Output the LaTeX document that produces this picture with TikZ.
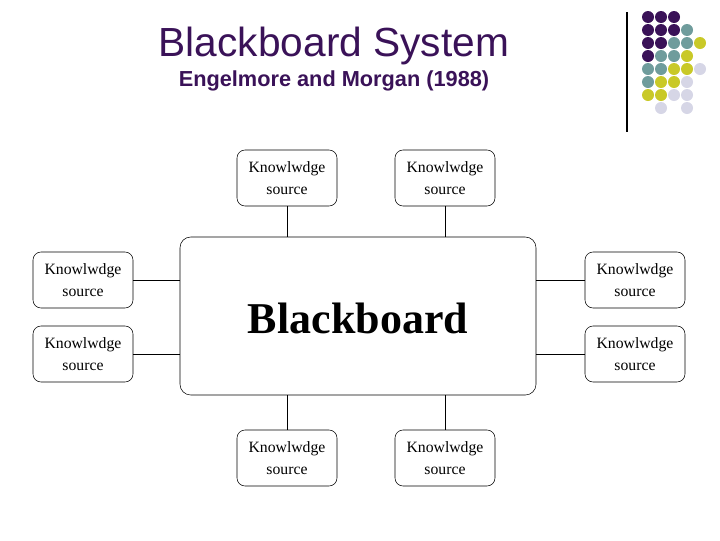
\documentclass[tikz,border=0pt]{standalone}
\usepackage{fontspec}
\setmainfont{Liberation Serif}
\newfontfamily\arialfont{Liberation Sans}
\usetikzlibrary{positioning}
\definecolor{bbpurple}{HTML}{3A1258}
\definecolor{bbteal}{HTML}{6F9C9C}
\definecolor{bbyellow}{HTML}{C9C928}
\definecolor{bblav}{HTML}{D6D6E6}
\tikzset{
  ks/.style={draw, rounded corners=6pt, minimum width=75pt, minimum height=42pt, align=center, font=\fontsize{11.8}{16.5}\selectfont},
  dot/.style={circle, inner sep=0pt, minimum size=9pt},
}
\begin{document}
\begin{tikzpicture}[x=0.75pt, y=-0.75pt]
		\useasboundingbox (0,0) rectangle (720,540);
		\node[font=\arialfont\fontsize{30.5}{33}\selectfont, text=bbpurple] (title) at (334, 46) {Blackboard System};
		\node[font=\arialfont\bfseries\fontsize{16.3}{18}\selectfont, text=bbpurple] (sub) at (334, 81) {Engelmore and Morgan (1988)};

		% dot grid
		\coordinate (ltop) at (627, 12);
		\coordinate (lbot) at (627, 132);
		\draw [line width=1pt] (ltop) -- (lbot);
		\foreach \r/\row in {0/{bbpurple,bbpurple,bbpurple},
				1/{bbpurple,bbpurple,bbpurple,bbteal},
				2/{bbpurple,bbpurple,bbteal,bbteal,bbyellow},
				3/{bbpurple,bbteal,bbteal,bbyellow},
				4/{bbteal,bbteal,bbyellow,bbyellow,bblav},
				5/{bbteal,bbyellow,bbyellow,bblav},
				6/{bbyellow,bbyellow,bblav,bblav},
				7/{none,bblav,none,bblav}} {
			\foreach \c [count=\i from 0] in \row {
				\node[dot, fill=\c] (d\r\i) at (648+13*\i, 17+13*\r) {};
			}
		}

		\node[draw, rounded corners=8pt, minimum width=267pt, minimum height=118.5pt] (board) at (358, 316) {};
		\node[font=\bfseries\fontsize{33}{36}\selectfont] (bbtext) at (358, 318) {Blackboard};

		\node[ks] (top1) at (287, 178) {Knowlwdge\\source};
		\node[ks] (top2) at (445, 178) {Knowlwdge\\source};
		\node[ks] (left1) at (83, 280) {Knowlwdge\\source};
		\node[ks] (left2) at (83, 354) {Knowlwdge\\source};
		\node[ks] (right1) at (635, 280) {Knowlwdge\\source};
		\node[ks] (right2) at (635, 354) {Knowlwdge\\source};
		\node[ks] (bot1) at (287, 458) {Knowlwdge\\source};
		\node[ks] (bot2) at (445, 458) {Knowlwdge\\source};

		\draw (top1.south) -- (top1.south |- board.north);
		\draw (top2.south) -- (top2.south |- board.north);
		\draw (bot1.north) -- (bot1.north |- board.south);
		\draw (bot2.north) -- (bot2.north |- board.south);
		\draw (left1.east) -- (left1.east -| board.west);
		\draw (left2.east) -- (left2.east -| board.west);
		\draw (right1.west) -- (right1.west -| board.east);
		\draw (right2.west) -- (right2.west -| board.east);
\end{tikzpicture}
\end{document}
